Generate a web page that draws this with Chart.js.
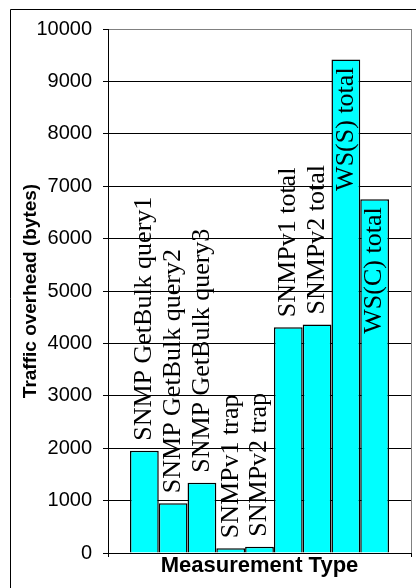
<!DOCTYPE html>
<html>
<head>
<meta charset="utf-8">
<script src="https://cdn.jsdelivr.net/npm/chart.js@4"></script>
<style>
html, body { margin: 0; padding: 0; background: #fff; overflow: hidden; }
</style>
</head>
<body>
<canvas id="trafficChart" width="416" height="588"></canvas>
<script>
const categories = ['1'];
const seriesNames = ['SNMP GetBulk query1', 'SNMP GetBulk query2', 'SNMP GetBulk query3', 'SNMPv1 trap', 'SNMPv2 trap', 'SNMPv1 total', 'SNMPv2 total', 'WS(S) total', 'WS(C) total'];
const seriesValues = [1950, 950, 1340, 90, 120, 4310, 4360, 9420, 6750];
const yMin = 0, yMax = 10000, yStep = 1000;

// rotated series names, drawn above each bar (or inside for the last two)
const barLabels = {
    id: 'barLabels',
    afterDatasetsDraw(chart, args, opts) {
        const ctx = chart.ctx;
        ctx.save();
        ctx.font = opts.font;
        ctx.fillStyle = '#000';
        ctx.textBaseline = 'middle';
        chart.data.datasets.forEach((ds, i) => {
            const bar = chart.getDatasetMeta(i).data[0];
            const inside = opts.inside.includes(i);
            ctx.save();
            ctx.translate(bar.x, inside ? bar.y + 8 : bar.y - 10);
            ctx.rotate(-Math.PI / 2);
            ctx.textAlign = inside ? 'right' : 'left';
            ctx.fillText(ds.label, 0, 0);
            ctx.restore();
        });
        ctx.restore();
    }
};

// outer chart frame (only left and top edges are in view)
const frame = {
    id: 'frame',
    afterDraw(chart) {
        const ctx = chart.ctx;
        ctx.save();
        ctx.strokeStyle = '#000';
        ctx.lineWidth = 1;
        ctx.beginPath();
        ctx.moveTo(10.5, chart.height);
        ctx.lineTo(10.5, 9.5);
        ctx.lineTo(chart.width, 9.5);
        ctx.stroke();
        ctx.restore();
    }
};

const ctx = document.getElementById('trafficChart').getContext('2d');
new Chart(ctx, {
    type: 'bar',
    data: {
        labels: categories,
        datasets: seriesNames.map((name, i) => ({
            label: name,
            data: [seriesValues[i]],
            backgroundColor: '#00ffff',
            borderColor: '#000',
            borderWidth: 1.5,
            barPercentage: 1,
            categoryPercentage: 0.855
        }))
    },
    options: {
        responsive: false,
        animation: false,
        layout: { padding: { top: 29, right: 5, left: 0, bottom: 0 } },
        scales: {
            x: {
                afterFit(s) { s.height = 35; },
                grid: {
                    offset: true,
                    color: c => c.index === 0 ? '#000' : '#808080',
                    tickColor: '#000',
                    tickLength: 4
                },
                border: { color: '#000', width: 1 },
                ticks: { display: false },
                title: {
                    display: true,
                    text: 'Measurement Type',
                    color: '#000',
                    font: { family: "'Liberation Sans', Arial", size: 22, weight: 'bold' },
                    padding: { top: 0, bottom: 9 }
                }
            },
            y: {
                min: yMin,
                max: yMax,
                afterFit(s) { s.width = 108; },
                grid: {
                    color: c => c.tick && c.tick.value === yMax ? '#808080' : '#000',
                    tickColor: '#000',
                    tickLength: 5
                },
                border: { color: '#000', width: 1 },
                ticks: {
                    stepSize: yStep,
                    padding: 11,
                    color: '#000',
                    font: { family: "'Liberation Sans', Arial", size: 20 },
                    callback: v => String(v)
                },
                title: {
                    display: true,
                    text: 'Traffic overhead (bytes)',
                    color: '#000',
                    font: { family: "'Liberation Sans', Arial", size: 19, weight: 'bold' },
                    padding: { top: 19, bottom: 0 }
                }
            }
        },
        plugins: {
            legend: { display: false },
            tooltip: { enabled: false },
            barLabels: { font: "26px 'Liberation Serif', 'Times New Roman', serif", inside: [7, 8] }
        }
    },
    plugins: [barLabels, frame]
});
</script>
</body>
</html>
